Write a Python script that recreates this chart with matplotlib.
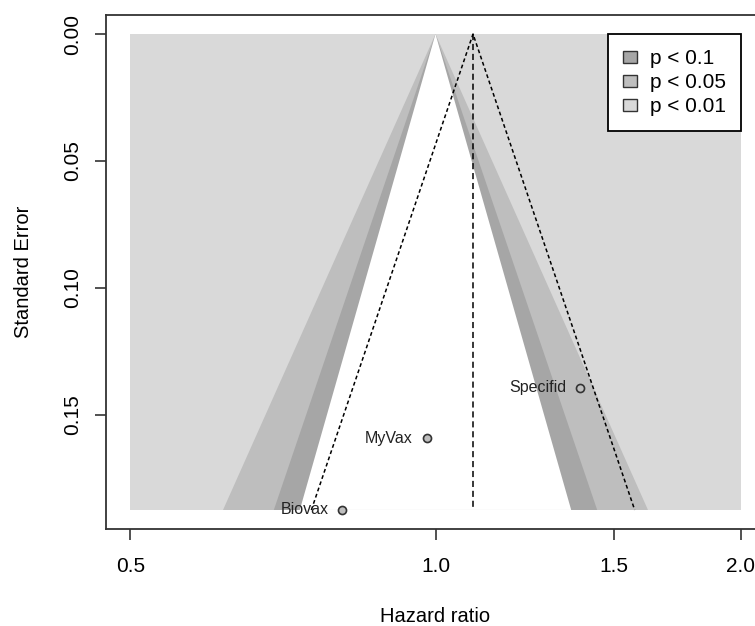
import numpy as np
import matplotlib
matplotlib.use("Agg")
import matplotlib.pyplot as plt
from matplotlib.patches import Patch

plt.rcParams['font.family'] = ['Liberation Sans', 'DejaVu Sans']

# study data
studies = ['Biovax', 'MyVax', 'Specifid']
hazard_ratio = [0.809, 0.980, 1.388]
std_error = [0.1874, 0.1592, 0.1393]
pooled_hr = 1.089

# contour levels (two-sided z for p < 0.1, 0.05, 0.01)
levels = ['p < 0.1', 'p < 0.05', 'p < 0.01']
z_values = [1.645, 1.960, 2.576]
shades = ['#A6A6A6', '#BEBEBE', '#D9D9D9']

x_ticks = [0.5, 1.0, 1.5, 2.0]
y_ticks = [0.00, 0.05, 0.10, 0.15]

se_max = max(std_error)
x_lo, x_hi = x_ticks[0], x_ticks[-1]

fig = plt.figure(figsize=(7.55, 6.26), dpi=100)
ax = fig.add_axes([106 / 755, 1 - 529 / 626, 659 / 755, 514 / 626])
ax.set_xscale('log')

# background rectangle, then nested triangles from the outside in
ax.fill([x_lo, x_hi, x_hi, x_lo], [0, 0, se_max, se_max], color=shades[2], lw=0, zorder=1)
fills = [(z_values[2], shades[1]), (z_values[1], shades[0]), (z_values[0], 'white')]
for z, col in fills:
    xs = [np.exp(-z * se_max), 1.0, np.exp(z * se_max)]
    ax.fill(xs, [se_max, 0, se_max], color=col, lw=0, zorder=2)

# funnel around pooled estimate
lp = np.log(pooled_hr)
ax.plot([np.exp(lp - 1.96 * se_max), pooled_hr, np.exp(lp + 1.96 * se_max)],
        [se_max, 0, se_max], color='black', lw=1.1, ls=(0, (2.5, 1.8)), zorder=3)
ax.plot([pooled_hr, pooled_hr], [0, se_max], color='black', lw=1.1, ls=(0, (4, 2.5)), zorder=3)

ax.plot(hazard_ratio, std_error, 'o', ms=5.8, mfc='#BEBEBE', mec='#333333', mew=1.2, zorder=4)
for name, hr, se in zip(studies, hazard_ratio, std_error):
    ax.annotate(name, (hr, se), xytext=(-10, 0), textcoords='offset points',
                ha='right', va='center', fontsize=11.5, color='#222222', zorder=5)

ext = 0.08
ax.set_xlim(2 ** (-1 - ext), 2 ** (1 + ext))
ax.set_ylim(se_max * 1.04, -se_max * 0.04)
ax.set_xticks(x_ticks)
ax.set_xticklabels([f'{v:.1f}' for v in x_ticks])
ax.xaxis.set_minor_locator(matplotlib.ticker.NullLocator())
ax.set_yticks(y_ticks)
ax.set_yticklabels([f'{v:.2f}' for v in y_ticks], rotation=90, va='center')
ax.tick_params(axis='both', labelsize=15, length=8, width=1.2, color='#333333')
ax.tick_params(axis='x', pad=12)
ax.tick_params(axis='y', pad=9)

for s in ax.spines.values():
    s.set_linewidth(1.3)
    s.set_color('#333333')

ax.set_xlabel('Hazard ratio', fontsize=14.5)
ax.set_ylabel('Standard Error', fontsize=14.5)
ax.xaxis.set_label_coords(0.5, (529 - 616) / 514)
ax.xaxis.label.set_va('center')
ax.yaxis.set_label_coords((23 - 106) / 659, 0.5)
ax.yaxis.label.set_va('center')

handles = [Patch(facecolor=c, edgecolor='#333333', lw=1) for c in shades]
leg = ax.legend(handles, levels, loc='upper right', bbox_to_anchor=(x_hi, 0.0),
                bbox_transform=ax.transData, borderaxespad=0, fontsize=15,
                fancybox=False, framealpha=1, edgecolor='black',
                handlelength=0.7, handleheight=0.5, handletextpad=0.6,
                labelspacing=0.24, borderpad=0.72)
leg.get_frame().set_linewidth(1.3)
leg.set_zorder(6)

fig.savefig('out.png', dpi=100)
